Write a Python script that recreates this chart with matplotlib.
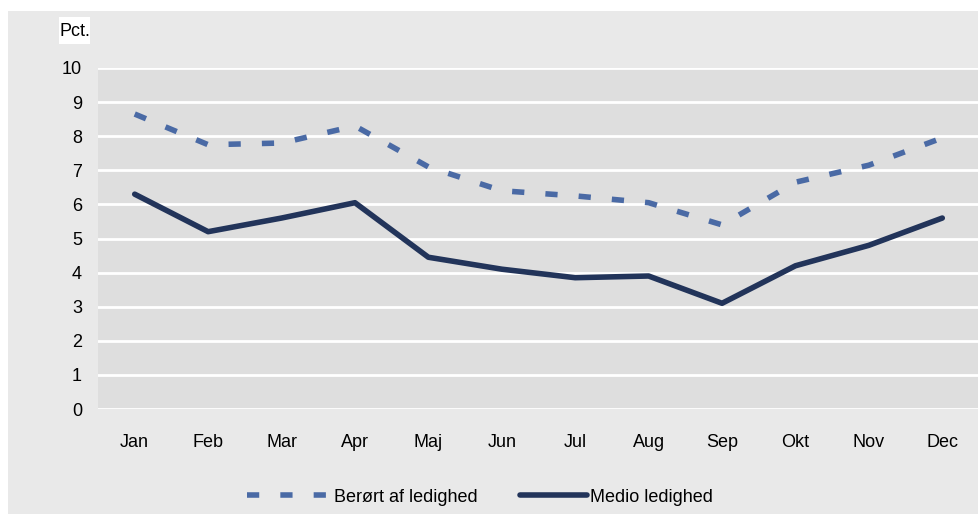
import matplotlib.pyplot as plt
from matplotlib.patches import Rectangle

months = ['Jan', 'Feb', 'Mar', 'Apr', 'Maj', 'Jun', 'Jul', 'Aug', 'Sep', 'Okt', 'Nov', 'Dec']
beroert = [8.65, 7.75, 7.8, 8.3, 7.1, 6.4, 6.25, 6.05, 5.4, 6.65, 7.15, 7.95]
medio = [6.3, 5.2, 5.6, 6.05, 4.45, 4.1, 3.85, 3.9, 3.1, 4.2, 4.8, 5.6]
yticks = list(range(0, 11))

plt.rcParams['font.family'] = ['Liberation Sans', 'DejaVu Sans']

W, H = 979, 514
fig = plt.figure(figsize=(W / 100, H / 100), dpi=100, facecolor='white')
# grey panel behind everything
fig.patches.append(Rectangle((8 / W, 0), 1, 1 - 11 / H, transform=fig.transFigure,
                             facecolor='#e9e9e9', edgecolor='none', zorder=-10))
# white box behind the unit label
fig.patches.append(Rectangle((59 / W, 1 - 44 / H), 31 / W, 27 / H, transform=fig.transFigure,
                             facecolor='white', edgecolor='none', zorder=-5))

ax = fig.add_axes([98 / W, 1 - 409 / H, (979 - 98) / W, (409 - 68) / H])
ax.set_facecolor('#dedede')
x = range(len(months))
l1, = ax.plot(x, beroert, color='#4a6aa5', lw=4, linestyle=(0, (2.2, 3.8)), label='Berørt af ledighed')
l2, = ax.plot(x, medio, color='#22345a', lw=4, solid_capstyle='round', label='Medio ledighed')

ax.set_xlim(-0.5, 11.5)
ax.set_ylim(0, 10)
ax.set_yticks(yticks)
ax.set_xticks(list(x))
ax.set_xticklabels(months)
ax.grid(axis='y', color='white', lw=2)
ax.set_axisbelow(True)
for s in ax.spines.values():
    s.set_visible(False)
ax.tick_params(length=0, labelsize=13, colors='black')
ax.tick_params(axis='y', pad=11.5)
ax.tick_params(axis='x', pad=18)

fig.text(74.5 / W, 1 - 31 / H, 'Pct.', fontsize=13, va='center', ha='center')

# two legend entries placed separately, like the original
ax_w = 979 - 98
ly = (409 - 497) / (409 - 68)
leg1 = ax.legend(handles=[l1], loc='center left', bbox_to_anchor=((247 - 98) / ax_w, ly),
                 frameon=False, fontsize=13, handlelength=4.6, handletextpad=0.2,
                 borderpad=0, borderaxespad=0)
ax.add_artist(leg1)
ax.legend(handles=[l2], loc='center left', bbox_to_anchor=((520 - 98) / ax_w, ly),
          frameon=False, fontsize=13, handlelength=3.7, handletextpad=0.2,
          borderpad=0, borderaxespad=0)

fig.savefig('out.png', dpi=100, facecolor='white')
